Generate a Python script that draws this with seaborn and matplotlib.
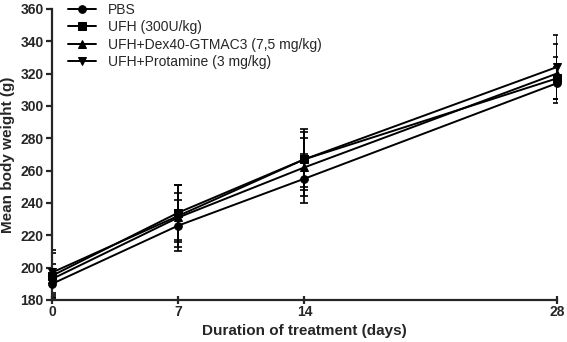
import matplotlib
matplotlib.use('Agg')
import matplotlib.pyplot as plt
import numpy as np
import pandas as pd
import seaborn as sns

days = [0, 7, 14, 28]
groups = ['PBS', 'UFH (300U/kg)', 'UFH+Dex40-GTMAC3 (7,5 mg/kg)', 'UFH+Protamine (3 mg/kg)']
pbs_mean = [190, 226, 255, 314]
pbs_sd = [8, 16, 15, 10]
ufh_mean = [195, 234, 267, 317]
ufh_sd = [14, 17, 19, 13]
dex_mean = [193, 231, 262, 320]
dex_sd = [9, 15, 18, 18]
prot_mean = [197, 232, 267, 324]
prot_sd = [14, 19, 17, 20]

means = [pbs_mean, ufh_mean, dex_mean, prot_mean]
sds = [pbs_sd, ufh_sd, dex_sd, prot_sd]
markers = ['o', 's', '^', 'v']

rows = []
for g, m in zip(groups, means):
    for d, v in zip(days, m):
        rows.append({'day': d, 'weight': v, 'group': g})
df = pd.DataFrame(rows)

sns.set_style('ticks')
plt.rcParams['font.family'] = ['Liberation Sans', 'DejaVu Sans']

fig = plt.figure(figsize=(5.67, 3.42), dpi=100)
ax = fig.add_axes([0.092, 0.123, 0.890, 0.851])

# error bars (SD)
for m, s in zip(means, sds):
    ax.errorbar(days, m, yerr=s, fmt='none', ecolor='black', elinewidth=1.2,
                capsize=3, capthick=1.2, zorder=2)

sns.lineplot(data=df, x='day', y='weight', hue='group', style='group',
             palette=['black'] * 4, markers=dict(zip(groups, markers)),
             dashes=False, markersize=5.5, linewidth=1.4, ax=ax,
             markeredgecolor='black', clip_on=False, zorder=3)

ax.set_xlim(0, 28)
ax.set_ylim(180, 360)
ax.set_xticks(days)
ax.set_yticks(np.arange(180, 361, 20))
ax.set_xlabel('Duration of treatment (days)', fontsize=11, fontweight='bold', labelpad=3)
ax.set_ylabel('Mean body weight (g)', fontsize=11, fontweight='bold', labelpad=4)
ax.tick_params(axis='both', labelsize=10, width=1.6, length=4, pad=2)
ax.tick_params(axis='x', direction='inout', length=6, pad=1)
for lab in ax.get_xticklabels() + ax.get_yticklabels():
    lab.set_fontweight('bold')
for side in ['left', 'bottom']:
    ax.spines[side].set_linewidth(1.6)
sns.despine(ax=ax)

leg = ax.legend(loc='upper left', bbox_to_anchor=(0.02, 1.04), frameon=False,
                fontsize=10, handlelength=2, handletextpad=0.9,
                labelspacing=0.25, borderaxespad=0)

fig.savefig('out.png', dpi=100)
